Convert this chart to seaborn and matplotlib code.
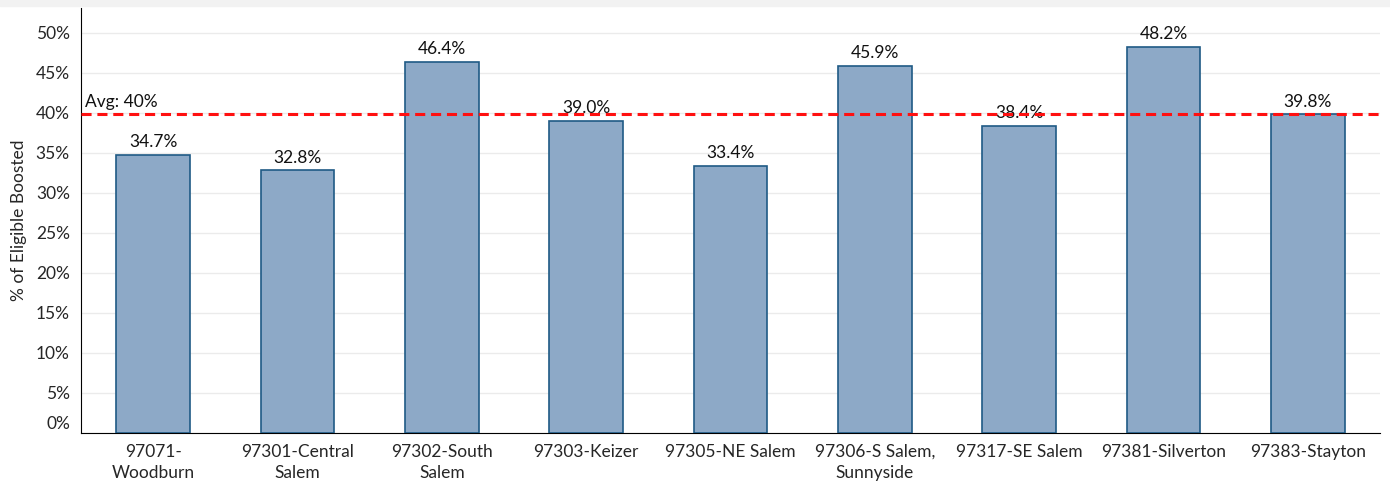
import seaborn as sns
import matplotlib.pyplot as plt
import matplotlib.transforms as mtransforms
import pandas as pd
import numpy as np

zips = ['97071-\nWoodburn', '97301-Central\nSalem', '97302-South\nSalem', '97303-Keizer',
        '97305-NE Salem', '97306-S Salem,\nSunnyside', '97317-SE Salem', '97381-Silverton',
        '97383-Stayton']
pct_boosted = [34.7, 32.8, 46.4, 39.0, 33.4, 45.9, 38.4, 48.2, 39.8]
y_ticks = [0, 5, 10, 15, 20, 25, 30, 35, 40, 45, 50]

df = pd.DataFrame({'zip': zips, 'pct': pct_boosted})
avg = np.mean(pct_boosted)

sns.set_style('white')
plt.rcParams['font.family'] = ['Lato', 'DejaVu Sans']

fig = plt.figure(figsize=(13.9, 4.86), dpi=100)
fig.patches.append(plt.Rectangle((0, 0.988), 1, 0.012, transform=fig.transFigure,
                                 color='#f2f2f2', zorder=0))
ax = fig.add_axes([81/1390, 1-433/486, 1299/1390, 425/486])

sns.barplot(data=df, x='zip', y='pct', color='#8da9c7', saturation=1, width=0.51,
            edgecolor='#1f5a85', linewidth=1.2, ax=ax, zorder=3)

for i, v in enumerate(pct_boosted):
    ax.text(i, v + 0.6, f'{v:.1f}%', ha='center', va='bottom', fontsize=12.5, color='#111111')

ax.axhline(avg, color='#ff1010', linestyle=(0, (3.3, 1.9)), linewidth=2.2, zorder=4)
ax.text(-0.47, avg + 0.5, f'Avg: {avg:.0f}%', ha='left', va='bottom', fontsize=12.5, color='#111111')

ax.set_xlim(-0.5, len(zips) - 0.5)
ax.set_ylim(0, 53.1)
ax.set_yticks(y_ticks)
ax.set_yticklabels([f'{t}%' for t in y_ticks], fontsize=12.5)
ax.yaxis.grid(True, color='#ebebeb', linewidth=1, zorder=0)
ax.set_axisbelow(True)

ax.set_xticks(range(len(zips)))
ax.set_xticklabels(zips, fontsize=12.5, linespacing=1.4)
ax.tick_params(axis='x', which='major', length=0, pad=8)
ax.set_xticks(np.arange(-0.5, len(zips)), minor=True)
ax.tick_params(axis='x', which='minor', length=6, width=1, color='black', direction='out')
ax.tick_params(axis='y', length=5, width=1, color='black', direction='out', pad=3)

# lift the 0% label off the axis line
lbl0 = ax.get_yticklabels()[0]
lbl0.set_transform(lbl0.get_transform() + mtransforms.ScaledTranslation(0, 11/100, fig.dpi_scale_trans))

ax.set_xlabel('')
ax.set_ylabel('% of Eligible Boosted', fontsize=12.5, labelpad=6)

sns.despine(ax=ax)
ax.spines['left'].set_color('black')
ax.spines['bottom'].set_color('black')

fig.savefig('out.png', dpi=100, facecolor='white')
